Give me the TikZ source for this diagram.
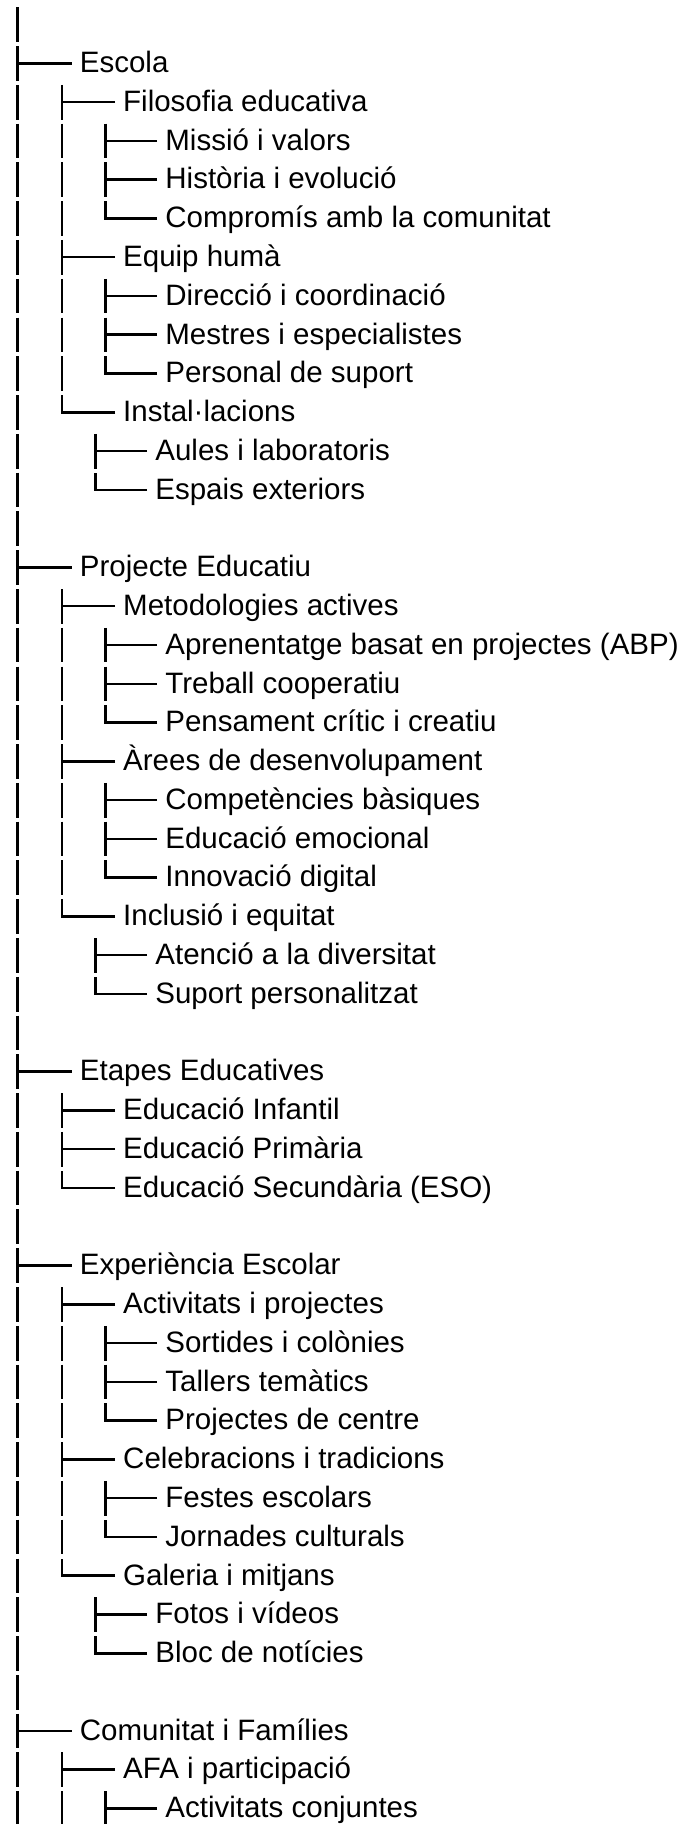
\documentclass[tikz,border=0pt]{standalone}
\usepackage{fontspec}
\setmainfont{Liberation Sans}

\tikzset{
  item/.style={anchor=west, inner sep=0pt, text height=11.8pt, text depth=2.5pt,
    font=\fontsize{14.75}{17}\selectfont},
  glyph/.style={line width=1.25pt},
}

\begin{document}
\begin{tikzpicture}[x=0.5pt, y=-0.5pt, declare function={ry(\k)=24.5+(\k-1)*38.78;}]
  \useasboundingbox (0,0) rectangle (680,1824);

  % columns of the bars and of the texts
  \def\cA{17.3} \def\cB{62} \def\cC{105.5} \def\cD{95.7}
  \def\xA{79.5} \def\xB{122.8} \def\xC{165} \def\xD{155}

  % Escola
  \node[item] (escola) at (\xA,{ry(2)}) {Escola};
  \node[item] (filosofia) at (\xB,{ry(3)}) {Filosofia educativa};
  \node[item] (missio) at (\xC,{ry(4)}) {Missió i valors};
  \node[item] (historia) at (\xC,{ry(5)}) {Història i evolució};
  \node[item] (compromis) at (\xC,{ry(6)}) {Compromís amb la comunitat};
  \node[item] (equip) at (\xB,{ry(7)}) {Equip humà};
  \node[item] (direccio) at (\xC,{ry(8)}) {Direcció i coordinació};
  \node[item] (mestres) at (\xC,{ry(9)}) {Mestres i especialistes};
  \node[item] (personal) at (\xC,{ry(10)}) {Personal de suport};
  \node[item] (installacions) at (\xB,{ry(11)}) {Instal·lacions};
  \node[item] (aules) at (\xD,{ry(12)}) {Aules i laboratoris};
  \node[item] (espais) at (\xD,{ry(13)}) {Espais exteriors};

  % Projecte Educatiu
  \node[item] (projecte) at (\xA,{ry(15)}) {Projecte Educatiu};
  \node[item] (metodologies) at (\xB,{ry(16)}) {Metodologies actives};
  \node[item] (abp) at (\xC,{ry(17)}) {Aprenentatge basat en projectes (ABP)};
  \node[item] (treball) at (\xC,{ry(18)}) {Treball cooperatiu};
  \node[item] (pensament) at (\xC,{ry(19)}) {Pensament crític i creatiu};
  \node[item] (arees) at (\xB,{ry(20)}) {Àrees de desenvolupament};
  \node[item] (competencies) at (\xC,{ry(21)}) {Competències bàsiques};
  \node[item] (emocional) at (\xC,{ry(22)}) {Educació emocional};
  \node[item] (digital) at (\xC,{ry(23)}) {Innovació digital};
  \node[item] (inclusio) at (\xB,{ry(24)}) {Inclusió i equitat};
  \node[item] (atencio) at (\xD,{ry(25)}) {Atenció a la diversitat};
  \node[item] (suport) at (\xD,{ry(26)}) {Suport personalitzat};

  % Etapes Educatives
  \node[item] (etapes) at (\xA,{ry(28)}) {Etapes Educatives};
  \node[item] (infantil) at (\xB,{ry(29)}) {Educació Infantil};
  \node[item] (primaria) at (\xB,{ry(30)}) {Educació Primària};
  \node[item] (secundaria) at (\xB,{ry(31)}) {Educació Secundària (ESO)};

  % Experiencia Escolar
  \node[item] (experiencia) at (\xA,{ry(33)}) {Experiència Escolar};
  \node[item] (activitats) at (\xB,{ry(34)}) {Activitats i projectes};
  \node[item] (sortides) at (\xC,{ry(35)}) {Sortides i colònies};
  \node[item] (tallers) at (\xC,{ry(36)}) {Tallers temàtics};
  \node[item] (projcentre) at (\xC,{ry(37)}) {Projectes de centre};
  \node[item] (celebracions) at (\xB,{ry(38)}) {Celebracions i tradicions};
  \node[item] (festes) at (\xC,{ry(39)}) {Festes escolars};
  \node[item] (jornades) at (\xC,{ry(40)}) {Jornades culturals};
  \node[item] (galeria) at (\xB,{ry(41)}) {Galeria i mitjans};
  \node[item] (fotos) at (\xD,{ry(42)}) {Fotos i vídeos};
  \node[item] (bloc) at (\xD,{ry(43)}) {Bloc de notícies};

  % Comunitat i Families
  \node[item] (comunitat) at (\xA,{ry(45)}) {Comunitat i Famílies};
  \node[item] (afa) at (\xB,{ry(46)}) {AFA i participació};
  \node[item] (conjuntes) at (\xC,{ry(47)}) {Activitats conjuntes};

  % branches that go on below
  \foreach \n/\c in {escola/\cA, projecte/\cA, etapes/\cA, experiencia/\cA, comunitat/\cA,
      filosofia/\cB, equip/\cB, metodologies/\cB, arees/\cB, infantil/\cB, primaria/\cB,
      activitats/\cB, celebracions/\cB, afa/\cB,
      missio/\cC, historia/\cC, direccio/\cC, mestres/\cC, abp/\cC, treball/\cC,
      competencies/\cC, emocional/\cC, sortides/\cC, tallers/\cC, festes/\cC, conjuntes/\cC,
      aules/\cD, atencio/\cD, fotos/\cD}
    \draw[glyph] (\n.west) ++(-7.8,0) -- (\n.west -| \c,0) ++(0,-17.2) -- ++(0,34.7);

  % last branches
  \foreach \n/\c in {installacions/\cB, inclusio/\cB, secundaria/\cB, galeria/\cB,
      compromis/\cC, personal/\cC, pensament/\cC, digital/\cC, projcentre/\cC, jornades/\cC,
      espais/\cD, suport/\cD, bloc/\cD}
    \draw[glyph] (\n.west) ++(-7.8,0) -- (\n.west -| \c,0) -- ++(0,-17.2);

  % plain bars
  \foreach \r in {1,3,4,5,6,7,8,9,10,11,12,13,14,16,17,18,19,20,21,22,23,24,25,26,27,
      29,30,31,32,34,35,36,37,38,39,40,41,42,43,44,46,47}
    \draw[glyph] (\cA,{ry(\r)-17.2}) -- ++(0,34.7);
  \foreach \r in {4,5,6,8,9,10,17,18,19,21,22,23,35,36,37,39,40,47}
    \draw[glyph] (\cB,{ry(\r)-17.2}) -- ++(0,34.7);
\end{tikzpicture}
\end{document}
